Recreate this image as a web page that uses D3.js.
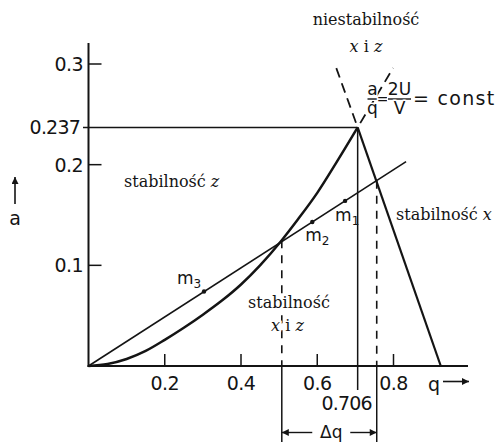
<!DOCTYPE html>
<html><head><meta charset="utf-8">
<script src="https://cdn.jsdelivr.net/npm/d3@7"></script>
<style>
html,body{margin:0;padding:0;background:#fff;}
svg{display:block;}
</style></head><body>
<svg id="chart" width="497" height="442"></svg>
<script>
// Stability diagram of the quadrupole mass filter in the (q, a) plane
const qTicks = [0.2, 0.4, 0.6, 0.8];
const qTickLabels = ["0.2", "0.4", "0.6", "0.8"];
const aTicks = [0.1, 0.2, 0.3];
const aTickLabels = ["0.1", "0.2", "0.3"];

// left boundary (onset of z stability), origin to apex
const leftQ = [0, 0.05, 0.1, 0.15, 0.2, 0.25, 0.3, 0.35, 0.4, 0.45, 0.507, 0.55, 0.6, 0.65, 0.706];
const leftA = [0, 0.002, 0.007, 0.015, 0.026, 0.038, 0.051, 0.065, 0.081, 0.1, 0.125, 0.146, 0.172, 0.202, 0.237];
// right boundary (limit of x stability), apex to axis
const rightQ = [0.706, 0.924];
const rightA = [0.237, 0];
// apex of the stable region
const apexQ = 0.706, apexA = 0.237;
const apexLabel = "0.706", apexALabel = "0.237";
// continuations of both boundaries above the apex
const extQ = [0.647, 0.799];
const extA = [0.299, 0.296];
// scan line a/q = const
const scanQ = [0, 0.833];
const scanA = [0, 0.203];
// masses lying on the scan line
const massNames = ["1", "2", "3"];
const massQ = [0.673, 0.587, 0.303];
const massA = [0.164, 0.143, 0.074];
// where the scan line crosses the boundaries
const crossQ = [0.507, 0.756];
const crossA = [0.125, 0.184];

const svg = d3.select("#chart");
const x = d3.scaleLinear().domain([0, 0.8]).range([88.5, 393.5]);
const y = d3.scaleLinear().domain([0, 0.3]).range([366, 64]);
const ink = "#141414";
const sans = "'DejaVu Sans', sans-serif";
const serif = "'DejaVu Serif', serif";

// arrowhead marker
const defs = svg.append("defs");
defs.append("marker").attr("id", "ah").attr("viewBox", "0 0 10 10")
  .attr("refX", 10).attr("refY", 5).attr("markerWidth", 9).attr("markerHeight", 7)
  .attr("markerUnits", "userSpaceOnUse").attr("orient", "auto")
  .append("path").attr("d", "M0,0 L10,5 L0,10 Z").attr("fill", ink);

const g = svg.append("g");

// axes
g.append("line").attr("x1", x(0)).attr("x2", x(0)).attr("y1", y(0) + 1).attr("y2", 43)
  .attr("stroke", ink).attr("stroke-width", 2);
g.append("line").attr("x1", x(0) - 1).attr("x2", 468).attr("y1", y(0)).attr("y2", y(0))
  .attr("stroke", ink).attr("stroke-width", 2);

// q ticks (pointing up) and labels
qTicks.forEach((t, i) => {
  g.append("line").attr("x1", x(t)).attr("x2", x(t)).attr("y1", y(0)).attr("y2", y(0) - 12)
    .attr("stroke", ink).attr("stroke-width", 1.5);
  g.append("text").attr("x", x(t)).attr("y", 390).attr("text-anchor", "middle")
    .attr("font-family", sans).attr("font-size", 19).attr("letter-spacing", -0.6)
    .attr("fill", ink).text(qTickLabels[i]);
});
// a ticks (pointing right) and labels
aTicks.forEach((t, i) => {
  g.append("line").attr("x1", x(0)).attr("x2", x(0) + 13).attr("y1", y(t)).attr("y2", y(t))
    .attr("stroke", ink).attr("stroke-width", 1.5);
  g.append("text").attr("x", 83).attr("y", y(t) + 7).attr("text-anchor", "end")
    .attr("font-family", sans).attr("font-size", 19).attr("letter-spacing", -0.6)
    .attr("fill", ink).text(aTickLabels[i]);
});

// horizontal line at the apex height
g.append("line").attr("x1", 83).attr("x2", x(apexQ)).attr("y1", y(apexA)).attr("y2", y(apexA))
  .attr("stroke", ink).attr("stroke-width", 1.5);
g.append("text").attr("x", 80).attr("y", y(apexA) + 7).attr("text-anchor", "end")
  .attr("font-family", sans).attr("font-size", 19).attr("letter-spacing", -0.8)
  .attr("fill", ink).text(apexALabel);

// vertical line at the apex q
g.append("line").attr("x1", x(apexQ)).attr("x2", x(apexQ)).attr("y1", y(apexA)).attr("y2", 390)
  .attr("stroke", ink).attr("stroke-width", 1.5);
g.append("text").attr("x", x(apexQ) - 11).attr("y", 410).attr("text-anchor", "middle")
  .attr("font-family", sans).attr("font-size", 19).attr("letter-spacing", -0.8)
  .attr("fill", ink).text(apexLabel);

// boundaries
g.append("path").datum(leftQ.map((q, i) => [q, leftA[i]]))
  .attr("d", d3.line().x(d => x(d[0])).y(d => y(d[1])).curve(d3.curveMonotoneX))
  .attr("fill", "none").attr("stroke", ink).attr("stroke-width", 2.5);
g.append("path").datum(rightQ.map((q, i) => [q, rightA[i]]))
  .attr("d", d3.line().x(d => x(d[0])).y(d => y(d[1])))
  .attr("fill", "none").attr("stroke", ink).attr("stroke-width", 2.2);

// dashed continuations above the apex
extQ.forEach((q, i) => {
  g.append("line").attr("x1", x(apexQ)).attr("y1", y(apexA))
    .attr("x2", x(q)).attr("y2", y(extA[i]))
    .attr("stroke", ink).attr("stroke-width", 1.8).attr("stroke-dasharray", "10,6")
    .attr("stroke-dashoffset", -5);
});

// scan line
g.append("line").attr("x1", x(scanQ[0])).attr("y1", y(scanA[0]))
  .attr("x2", x(scanQ[1])).attr("y2", y(scanA[1]))
  .attr("stroke", ink).attr("stroke-width", 1.6);

// verticals through the crossings: dashed inside the plot, solid below the axis
crossQ.forEach((q, i) => {
  g.append("line").attr("x1", x(q)).attr("x2", x(q)).attr("y1", y(crossA[i])).attr("y2", y(0))
    .attr("stroke", ink).attr("stroke-width", 1.6).attr("stroke-dasharray", "8,7");
  g.append("line").attr("x1", x(q)).attr("x2", x(q)).attr("y1", y(0)).attr("y2", 442)
    .attr("stroke", ink).attr("stroke-width", 1.5);
});

// delta q arrows
const dqY = 432.5;
const dqMid = (x(crossQ[0]) + x(crossQ[1])) / 2;
g.append("line").attr("x1", dqMid - 17).attr("x2", x(crossQ[0])).attr("y1", dqY).attr("y2", dqY)
  .attr("stroke", ink).attr("stroke-width", 1.4).attr("marker-end", "url(#ah)");
g.append("line").attr("x1", dqMid + 21).attr("x2", x(crossQ[1])).attr("y1", dqY).attr("y2", dqY)
  .attr("stroke", ink).attr("stroke-width", 1.4).attr("marker-end", "url(#ah)");
g.append("text").attr("x", dqMid + 2).attr("y", 438).attr("text-anchor", "middle")
  .attr("font-family", sans).attr("font-size", 17).attr("fill", ink).text("Δq");

// masses
const massDx = [-10, -7, -27], massDy = [20, 19, -8];
massQ.forEach((q, i) => {
  g.append("circle").attr("cx", x(q)).attr("cy", y(massA[i])).attr("r", 2.2).attr("fill", ink);
  const t = g.append("text").attr("x", x(q) + massDx[i]).attr("y", y(massA[i]) + massDy[i])
    .attr("font-family", sans).attr("font-size", 17).attr("fill", ink);
  t.append("tspan").text("m");
  t.append("tspan").attr("dy", 4).attr("font-size", 12).text(massNames[i]);
});

// axis captions
g.append("text").attr("x", 434).attr("y", 391).attr("text-anchor", "middle")
  .attr("font-family", sans).attr("font-size", 19).attr("fill", ink).text("q");
g.append("line").attr("x1", 443).attr("x2", 469).attr("y1", 381.5).attr("y2", 381.5)
  .attr("stroke", ink).attr("stroke-width", 1.6).attr("marker-end", "url(#ah)");
g.append("text").attr("x", 15).attr("y", 225).attr("text-anchor", "middle")
  .attr("font-family", sans).attr("font-size", 19).attr("fill", ink).text("a");
g.append("line").attr("x1", 15).attr("x2", 15).attr("y1", 204).attr("y2", 177)
  .attr("stroke", ink).attr("stroke-width", 1.6).attr("marker-end", "url(#ah)");

// region labels
function regionLabel(xp, yp, parts, anchor) {
  const t = g.append("text").attr("x", xp).attr("y", yp).attr("text-anchor", anchor || "start")
    .attr("font-family", serif).attr("font-size", 16).attr("fill", ink)
    .attr("stroke", "#fff").attr("stroke-width", 4).attr("paint-order", "stroke")
    .attr("stroke-linejoin", "round");
  parts.forEach(p => {
    const s = t.append("tspan").text(p[0]);
    if (p[1]) s.attr("font-style", "italic");
  });
  return t;
}
regionLabel(124, 187, [["stabilność "], ["z", true]]);
regionLabel(396, 220, [["stabilność "], ["x", true]]);
regionLabel(289, 308, [["stabilność"]], "middle");
regionLabel(287.5, 331, [["x", true], [" i "], ["z", true]], "middle");
regionLabel(366, 25, [["niestabilność"]], "middle");
regionLabel(366, 52, [["x", true], [" i "], ["z", true]], "middle");

// operating condition a/q = 2U/V = const
const fy = 99;
const halo = sel => sel.attr("stroke", "#fff").attr("stroke-width", 3)
  .attr("paint-order", "stroke").attr("stroke-linejoin", "round");
function frac(cx, num, den, w) {
  g.append("line").attr("x1", cx - w / 2 - 1).attr("x2", cx + w / 2 + 1).attr("y1", fy).attr("y2", fy)
    .attr("stroke", "#fff").attr("stroke-width", 4);
  g.append("line").attr("x1", cx - w / 2).attr("x2", cx + w / 2).attr("y1", fy).attr("y2", fy)
    .attr("stroke", ink).attr("stroke-width", 1.4);
  g.append("text").attr("x", cx).attr("y", fy - 4).attr("text-anchor", "middle")
    .attr("font-family", sans).attr("font-size", 17).attr("fill", ink).call(halo).text(num);
  g.append("text").attr("x", cx).attr("y", fy + 15).attr("text-anchor", "middle")
    .attr("font-family", sans).attr("font-size", 17).attr("fill", ink).call(halo).text(den);
}
frac(372.5, "a", "q", 10);
g.append("text").attr("x", 382.5).attr("y", fy + 5).attr("text-anchor", "middle")
  .attr("font-family", sans).attr("font-size", 14).attr("fill", ink).call(halo).text("=");
frac(399.5, "2U", "V", 23);
g.append("text").attr("x", 413).attr("y", fy + 6)
  .attr("font-family", sans).attr("font-size", 19).attr("letter-spacing", 1.3)
  .attr("fill", ink).text("= const");
</script>
</body></html>
